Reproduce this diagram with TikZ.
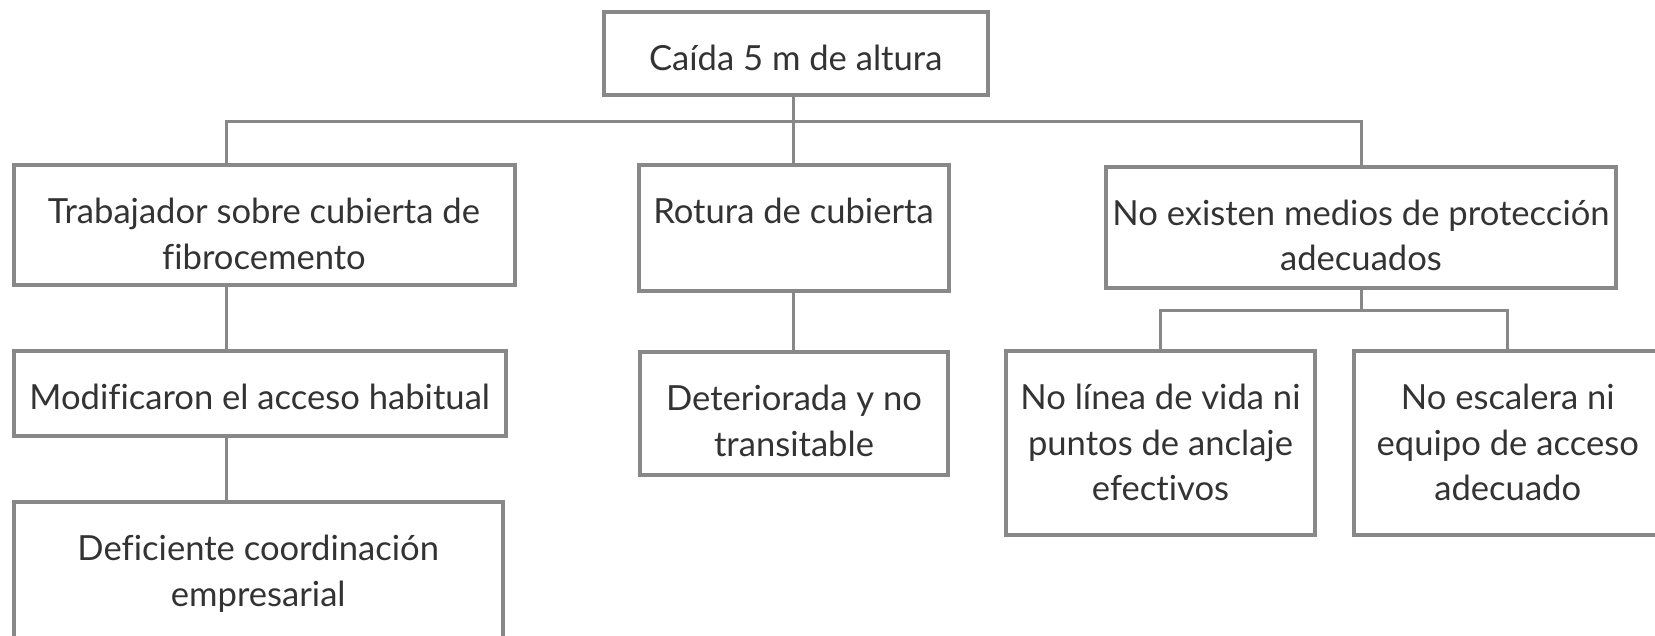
\documentclass[tikz,border=0pt]{standalone}
\usepackage{fontspec}
\setmainfont[Ligatures=NoCommon]{Lato}
\usetikzlibrary{calc}
\definecolor{boxgray}{HTML}{888888}
\definecolor{txtgray}{HTML}{333333}
\begin{document}
\begin{tikzpicture}[x=0.5pt,y=-0.5pt,
  box/.style={draw=boxgray, line width=2pt, rectangle, inner sep=0pt},
  conn/.style={draw=boxgray, line width=1.5pt},
  txt/.style={inner sep=0pt, anchor=base, text=txtgray, font=\fontsize{17.3}{22.75}\selectfont}]
\useasboundingbox (0,0) rectangle (1655,636);
\clip (0,0) rectangle (1655,636);
% boxes
\node[box, minimum width=384.5*0.5pt, minimum height=83.5*0.5pt] (top) at (795.75,53.75) {};
\node[box, minimum width=501*0.5pt, minimum height=119.5*0.5pt] (A) at (264,225.25) {};
\node[box, minimum width=310*0.5pt, minimum height=125.5*0.5pt] (B) at (793.5,228.25) {};
\node[box, minimum width=510*0.5pt, minimum height=121.5*0.5pt] (C) at (1361,227.75) {};
\node[box, minimum width=492.5*0.5pt, minimum height=85*0.5pt] (F) at (259.75,393.5) {};
\node[box, minimum width=308*0.5pt, minimum height=123*0.5pt] (H) at (794,413.5) {};
\node[box, minimum width=489.5*0.5pt, minimum height=185.5*0.5pt] (G) at (258.25,595) {};
\node[box, minimum width=309*0.5pt, minimum height=184*0.5pt] (D) at (1160.5,443) {};
\node[box, minimum width=308.5*0.5pt, minimum height=184*0.5pt] (E) at (1507.75,443) {};
% texts (first baseline about 60px below outer top)
\node[txt] (topt) at ($(top.north)+(0,60.5)$) {\parbox[t]{240pt}{\centering Caída 5 m de altura}};
\node[txt] (At) at ($(A.north)+(0,60.5)$) {\parbox[t]{280pt}{\centering Trabajador sobre cubierta de\\fibrocemento}};
\node[txt] (Bt) at ($(B.north)+(0,60.5)$) {\parbox[t]{200pt}{\centering Rotura de cubierta}};
\node[txt] (Ct) at ($(C.north)+(0,60.5)$) {\parbox[t]{300pt}{\centering No existen medios de protección\\adecuados}};
\node[txt] (Ft) at ($(F.north)+(0,60.5)$) {\parbox[t]{280pt}{\centering Modificaron el acceso habitual}};
\node[txt] (Ht) at ($(H.north)+(0,60.5)$) {\parbox[t]{200pt}{\centering Deteriorada y no\\transitable}};
\node[txt] (Gt) at ($(G.north)+(0,60.5)$) {\parbox[t]{280pt}{\centering Deficiente coordinación\\empresarial}};
\node[txt] (Dt) at ($(D.north)+(0,60.5)$) {\parbox[t]{200pt}{\centering No línea de vida ni\\puntos de anclaje\\efectivos}};
\node[txt] (Et) at ($(E.north)+(0,60.5)$) {\parbox[t]{200pt}{\centering No escalera ni\\equipo de acceso\\adecuado}};
% connectors
\coordinate (xa) at (226,122);
\coordinate (xc) at (1361,122);
\coordinate (xd) at (1160.5,311);
\draw[conn] (top.south -| B.north) -- (B.north);
\draw[conn] (xa |- A.north) -- (xa) -- (xc) -- (C.north);
\draw[conn] (xa |- A.south) -- (xa |- F.north);
\draw[conn] (xa |- F.south) -- (xa |- G.north);
\draw[conn] (B.south) -- (B.south |- H.north);
\draw[conn] (C.south) -- (C.south |- xd);
\draw[conn] (D.north) -- (D.north |- xd) -- (E.north |- xd) -- (E.north);
\end{tikzpicture}
\end{document}
